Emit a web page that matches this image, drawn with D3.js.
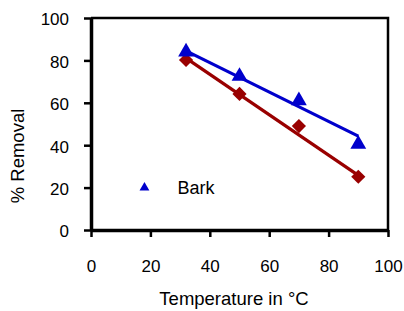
<!DOCTYPE html>
<html>
<head>
<meta charset="utf-8">
<script src="https://cdn.jsdelivr.net/npm/d3@7"></script>
<style>
  body { margin: 0; background: #fff; }
  text { font-family: "Liberation Sans", Arial, sans-serif; fill: #000; }
</style>
</head>
<body>
<svg id="chart" width="404" height="311"></svg>
<script>
// values
const temps = [32, 50, 70, 90];
const barkRemoval = [84, 72.5, 61, 40.5];
const otherRemoval = [80.2, 64.2, 49, 25.1];
// trend lines as drawn (start / end)
const barkTrend = [[32, 84.5], [90, 44.3]];
const otherTrend = [[31, 82], [91, 24.8]];
const xTicks = [0, 20, 40, 60, 80, 100];
const yTicks = [0, 20, 40, 60, 80, 100];

const margin = { top: 18, right: 16, bottom: 81, left: 91 };
const svg = d3.select("#chart");
const width = +svg.attr("width") - margin.left - margin.right;
const height = +svg.attr("height") - margin.top - margin.bottom;

const x = d3.scaleLinear().domain([0, 100]).range([0, width]);
const y = d3.scaleLinear().domain([0, 100]).range([height, 0]);

const g = svg.append("g")
  .attr("transform", `translate(${margin.left},${margin.top})`);

// frame (top and right)
g.append("path")
  .attr("d", `M0,0H${width}V${height}`)
  .attr("fill", "none")
  .attr("stroke", "#000")
  .attr("stroke-width", 2.5);

const xAxis = g.append("g")
  .attr("transform", `translate(0,${height})`)
  .call(d3.axisBottom(x).tickValues(xTicks).tickSize(7).tickSizeOuter(0).tickPadding(23));
const yAxis = g.append("g")
  .call(d3.axisLeft(y).tickValues(yTicks).tickSize(7).tickSizeOuter(0).tickPadding(15));

[xAxis, yAxis].forEach((a) => {
  a.select(".domain").attr("stroke-width", 3.5);
  a.selectAll(".tick line").attr("stroke-width", 2.5);
  a.selectAll(".tick text")
    .attr("font-size", 17)
    .attr("font-family", "Liberation Sans, Arial, sans-serif")
    .attr("fill", "#000");
});
yAxis.selectAll(".tick text").attr("dy", "0.4em");

const line = d3.line().x((d) => x(d[0])).y((d) => y(d[1]));

g.append("path").datum(otherTrend)
  .attr("d", line).attr("fill", "none")
  .attr("stroke", "#990000").attr("stroke-width", 3.2);
g.append("path").datum(barkTrend)
  .attr("d", line).attr("fill", "none")
  .attr("stroke", "#0000cc").attr("stroke-width", 3.2);

const diamond = d3.symbol().type(d3.symbolDiamond2).size(128);
const triangle = d3.symbol().type(d3.symbolTriangle).size(108);

g.selectAll(".dia").data(temps).join("path")
  .attr("class", "dia")
  .attr("d", diamond)
  .attr("transform", (d, i) => `translate(${x(d)},${y(otherRemoval[i])})`)
  .attr("fill", "#990000");

g.selectAll(".tri").data(temps).join("path")
  .attr("class", "tri")
  .attr("d", triangle)
  .attr("transform", (d, i) => `translate(${x(d)},${y(barkRemoval[i])})`)
  .attr("fill", "#0000cc");

// legend
const lg = g.append("g").attr("transform", `translate(${x(18)},${y(20)})`);
lg.append("path")
  .attr("d", d3.symbol().type(d3.symbolTriangle).size(42))
  .attr("fill", "#0000cc");
lg.append("text")
  .attr("x", 33).attr("y", 6.5)
  .attr("font-size", 18)
  .text("Bark");

// axis titles
svg.append("text")
  .attr("x", 234).attr("y", 305)
  .attr("text-anchor", "middle")
  .attr("font-size", 18.5)
  .text("Temperature in °C");

svg.append("text")
  .attr("transform", "translate(24,156) rotate(-90)")
  .attr("text-anchor", "middle")
  .attr("font-size", 18.5)
  .text("% Removal");
</script>
</body>
</html>
